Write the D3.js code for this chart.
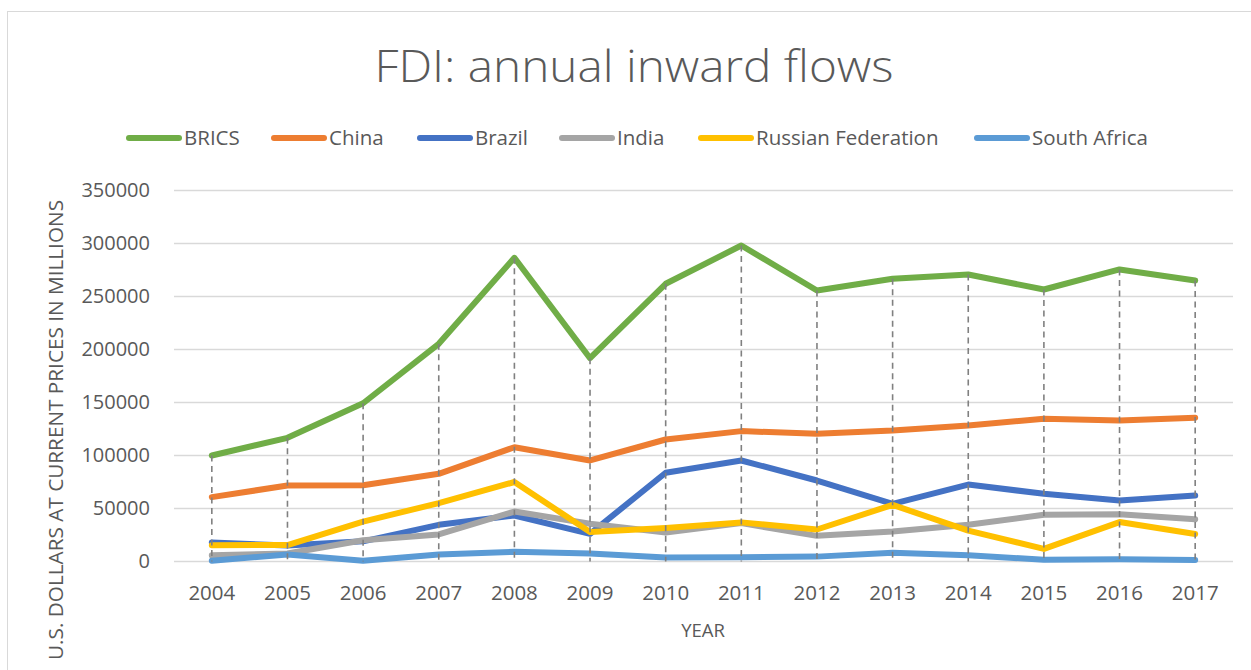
<!DOCTYPE html>
<html><head><meta charset="utf-8">
<script src="https://cdn.jsdelivr.net/npm/d3@7"></script>
<style>body{margin:0;background:#fff}svg{display:block;font-family:"Open Sans",sans-serif}</style>
</head><body><svg id="c" width="1251" height="670"></svg>
<script>
const years = [2004,2005,2006,2007,2008,2009,2010,2011,2012,2013,2014,2015,2016,2017];
const brics = [100000,116700,149300,205400,286500,191800,262000,298100,255700,266700,270800,256600,275500,265100];
const china = [60700,71700,72000,82700,107800,95300,115100,123000,120500,123600,128300,134600,133000,135600];
const brazil = [18000,15100,19000,34600,43400,26100,83700,95300,76400,54400,72600,63900,57500,62300];
const india = [5800,7600,20000,25500,47100,35600,27400,36200,24200,28200,34600,44100,44500,39900];
const russia = [15400,15500,37600,55100,75000,27800,31700,36900,30200,53400,29200,11900,37200,25900];
const southAfrica = [800,6600,600,6600,9200,7600,3700,4100,4600,8300,5800,1700,2200,1400];
const yTicks = [0,50000,100000,150000,200000,250000,300000,350000];
const seriesNames = ["BRICS","China","Brazil","India","Russian Federation","South Africa"];
const seriesColors = ["#70AD47","#ED7D31","#4472C4","#A5A5A5","#FFC000","#5B9BD5"];
const seriesValues = [brics,china,brazil,india,russia,southAfrica];

const svg = d3.select("#c");
svg.append("rect").attr("x",7.5).attr("y",11.5).attr("width",1300).attr("height",700)
  .attr("fill","#fff").attr("stroke","#d9d9d9").attr("stroke-width",1);

const x = d3.scaleBand().domain(years).range([174,1233]);
const y = d3.scaleLinear().domain([0,350000]).range([561.5,190.5]);
const cx = d => x(d) + x.bandwidth()/2;

// title
svg.append("text").attr("x",634).attr("y",82).attr("text-anchor","middle")
  .attr("font-size",44).attr("font-weight",300).attr("fill","#595959")
  .attr("textLength",519).attr("lengthAdjust","spacingAndGlyphs").text("FDI: annual inward flows");

// gridlines
svg.append("g").selectAll("line").data(yTicks).join("line")
  .attr("x1",174).attr("x2",1233).attr("y1",d=>y(d)).attr("y2",d=>y(d))
  .attr("stroke","#d9d9d9").attr("stroke-width",1.5);

// y axis
const yAxis = svg.append("g").attr("transform","translate(174,0)")
  .call(d3.axisLeft(y).tickValues(yTicks).tickSize(0).tickPadding(24).tickFormat(d3.format("d")));
yAxis.select(".domain").remove();
yAxis.selectAll("text").attr("font-size",20).attr("fill","#595959").attr("font-family","Open Sans");

// x axis
const xAxis = svg.append("g").attr("transform","translate(0,561)")
  .call(d3.axisBottom(x).tickSize(0).tickPadding(24).tickFormat(d3.format("d")));
xAxis.select(".domain").remove();
xAxis.selectAll("text").attr("font-size",20.5).attr("fill","#595959").attr("font-family","Open Sans");

// axis titles
svg.append("text").attr("x",703).attr("y",637).attr("text-anchor","middle")
  .attr("font-size",18.5).attr("fill","#595959").text("YEAR");
svg.append("text").attr("transform","translate(63,430) rotate(-90)").attr("text-anchor","middle")
  .attr("font-size",19.5).attr("fill","#595959").attr("textLength",460).attr("lengthAdjust","spacingAndGlyphs")
  .text("U.S. DOLLARS AT CURRENT PRICES IN MILLIONS");

// lines
const line = d3.line().x((d,i)=>cx(years[i])).y(d=>y(d));
svg.append("g").selectAll("path").data(seriesValues).join("path")
  .attr("d",d=>line(d)).attr("fill","none").attr("stroke",(d,i)=>seriesColors[i])
  .attr("stroke-width",6).attr("stroke-linecap","round").attr("stroke-linejoin","round");

// drop lines
svg.append("g").selectAll("line").data(years).join("line")
  .attr("x1",d=>cx(d)).attr("x2",d=>cx(d)).attr("y1",(d,i)=>y(brics[i])).attr("y2",y(0))
  .attr("stroke","#808080").attr("stroke-width",1.6).attr("stroke-dasharray","6,4.5");

// legend
const legX = [126,271,417,559,698,974];
const leg = svg.append("g").selectAll("g").data(seriesNames).join("g")
  .attr("transform",(d,i)=>`translate(${legX[i]},138)`);
leg.append("line").attr("x1",3).attr("x2",53).attr("y1",0).attr("y2",0)
  .attr("stroke",(d,i)=>seriesColors[i]).attr("stroke-width",6).attr("stroke-linecap","round");
leg.append("text").attr("x",58).attr("y",7).attr("font-size",20.5).attr("fill","#595959").text(d=>d);
</script></body></html>
